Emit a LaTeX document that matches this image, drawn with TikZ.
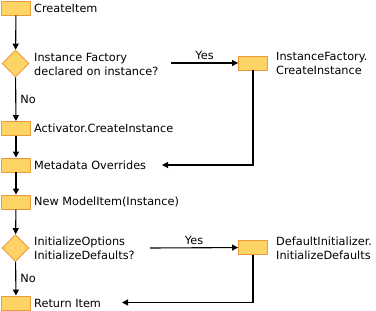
\documentclass[tikz,border=0pt]{standalone}
\usepackage{fontspec}
\setmainfont{DejaVu Sans}
\usetikzlibrary{shapes.geometric,arrows.meta}
\definecolor{boxfill}{HTML}{FFD466}
\definecolor{boxline}{HTML}{EE9A3A}
\tikzset{
  stepbox/.style={draw=boxline,fill=boxfill,line width=0.9pt,minimum width=29pt,minimum height=14pt,inner sep=0pt},
  decide/.style={diamond,draw=boxline,fill=boxfill,line width=0.9pt,minimum width=27pt,minimum height=27pt,inner sep=0pt},
  lbl/.style={anchor=west,inner sep=0pt,font=\fontsize{11.3pt}{14pt}\selectfont,align=left},
  flow/.style={draw=black,line width=1.1pt,-{Triangle[length=6pt,width=6pt]}},
  small/.style={font=\fontsize{11.3pt}{13pt}\selectfont,inner sep=0pt}
}
\begin{document}
\begin{tikzpicture}[x=1pt,y=-1pt]
\useasboundingbox (0,0) rectangle (376,311);
\node[stepbox] (b1) at (16,8) {};
\node[lbl] (t1) at (34,8) {CreateItem};
\node[decide] (d1) at (15.5,63.5) {};
\node[lbl] (td1) at (34,64) {Instance Factory\\declared on instance?};
\node[stepbox] (b2) at (16,128.5) {};
\node[lbl] (t2) at (34,128.5) {Activator.CreateInstance};
\node[stepbox] (b3) at (16,165) {};
\node[lbl] (t3) at (34,165) {Metadata Overrides};
\node[stepbox] (b4) at (16,202) {};
\node[lbl] (t4) at (34,202) {New ModelItem(Instance)};
\node[decide] (d2) at (15.5,248) {};
\node[lbl] (td2) at (34,248) {InitializeOptions\\InitializeDefaults?};
\node[stepbox] (b5) at (16,303) {};
\node[lbl] (t5) at (34,303) {Return Item};
\node[stepbox] (r1) at (253,63) {};
\node[lbl] (tr1) at (276,63.5) {InstanceFactory.\\CreateInstance};
\node[stepbox] (r2) at (253,247.5) {};
\node[lbl] (tr2) at (276,248) {DefaultInitializer.\\InitializeDefaults};
\coordinate (y1) at (171,63);
\coordinate (y2) at (150,248);
\coordinate (c1) at (253,165);
\coordinate (e1) at (162,165);
\coordinate (c2) at (253,302.5);
\coordinate (e2) at (122,302.5);
\draw[flow] (b1) -- (d1);
\draw[flow] (d1) -- node[small,right=4pt]{No} (b2);
\draw[flow] (b2) -- (b3);
\draw[flow] (b3) -- (b4);
\draw[flow] (b4) -- (d2);
\draw[flow] (d2) -- node[small,right=4pt]{No} (b5);
\draw[flow] (y1) -- node[small,above=3pt]{Yes} (r1);
\draw[flow] (y2) -- node[small,above=3pt]{Yes} (r2);
\draw[flow] (r1) -- (c1) -- (e1);
\draw[flow] (r2) -- (c2) -- (e2);
\end{tikzpicture}
\end{document}
